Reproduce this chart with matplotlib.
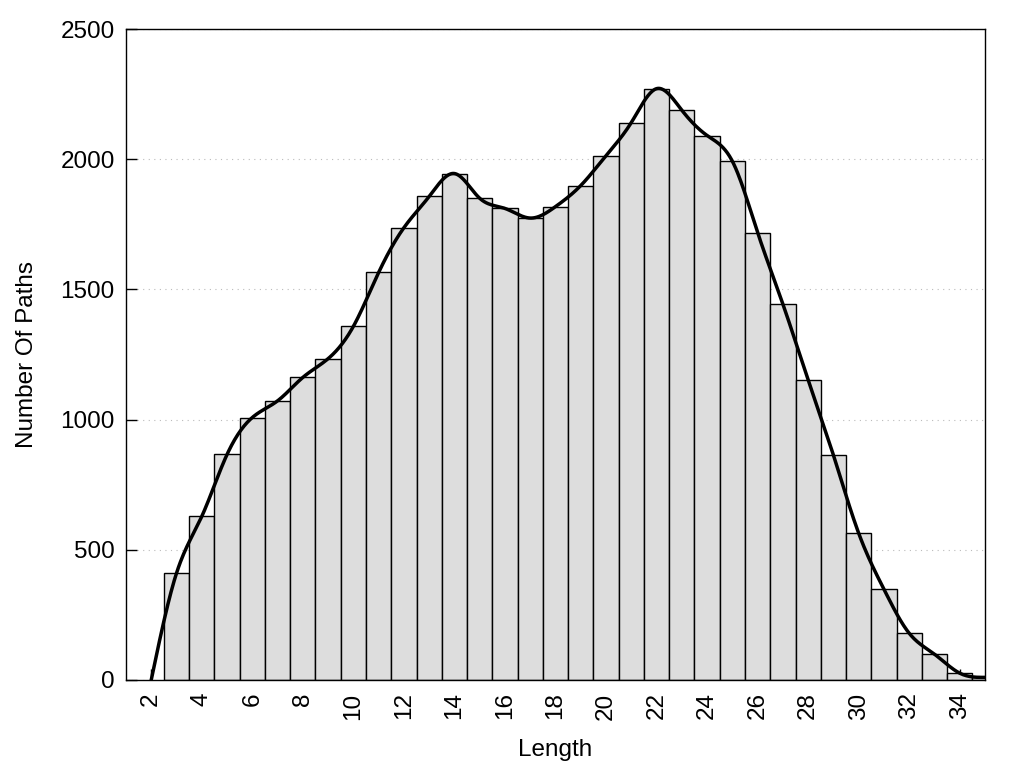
import numpy as np
import matplotlib
matplotlib.use("Agg")
import matplotlib.pyplot as plt

plt.rcParams['font.family'] = ['Liberation Sans', 'DejaVu Sans']

# path length histogram
lengths = list(range(3, 36))
counts = [410, 628, 866, 1008, 1072, 1162, 1234, 1358, 1565, 1737, 1857, 1945,
          1850, 1811, 1774, 1818, 1899, 2014, 2141, 2271, 2188, 2091, 1992,
          1718, 1443, 1152, 863, 563, 348, 179, 99, 26, 10]

# curve anchor points (curve starts at length 2 with zero paths)
curve_x = [2] + lengths
curve_y = [0] + counts

xticks = list(range(2, 35, 2))
yticks = [0, 500, 1000, 1500, 2000, 2500]


def natural_spline(x, y, xs):
    x = np.asarray(x, float)
    y = np.asarray(y, float)
    n = len(x)
    h = np.diff(x)
    A = np.zeros((n, n))
    b = np.zeros(n)
    A[0, 0] = A[-1, -1] = 1.0
    for i in range(1, n - 1):
        A[i, i - 1] = h[i - 1]
        A[i, i] = 2 * (h[i - 1] + h[i])
        A[i, i + 1] = h[i]
        b[i] = 3 * ((y[i + 1] - y[i]) / h[i] - (y[i] - y[i - 1]) / h[i - 1])
    c = np.linalg.solve(A, b)
    bb = (y[1:] - y[:-1]) / h - h * (2 * c[:-1] + c[1:]) / 3
    d = (c[1:] - c[:-1]) / (3 * h)
    idx = np.clip(np.searchsorted(x, xs) - 1, 0, n - 2)
    t = xs - x[idx]
    return y[idx] + bb[idx] * t + c[idx] * t ** 2 + d[idx] * t ** 3


fig = plt.figure(figsize=(10.24, 7.68), dpi=100)
ax = fig.add_axes([0.123, 0.1146, 0.839, 0.8476])

ax.bar(lengths, counts, width=1.0, color='#dddddd', edgecolor='black',
       linewidth=1.0, zorder=2)

xs = np.linspace(curve_x[0], curve_x[-1], 800)
ax.plot(xs, natural_spline(curve_x, curve_y, xs), color='black', lw=2.5,
        zorder=3)

ax.set_xlim(1, 35)
ax.set_ylim(0, 2500)
ax.set_xticks(xticks)
ax.set_yticks(yticks)
ax.set_xticklabels([str(v) for v in xticks], rotation=90, fontsize=17.5)
ax.tick_params(axis='y', labelsize=17.5)
ax.tick_params(direction='in', length=8, width=1.0, pad=8)
ax.tick_params(axis='x', pad=9)

ax.yaxis.grid(True, linestyle=(0, (1, 4)), color='#bbbbbb', linewidth=0.8,
              zorder=0)
ax.set_axisbelow(True)
for s in ax.spines.values():
    s.set_linewidth(1.0)

ax.set_xlabel('Length', fontsize=17.5, labelpad=14)
ax.set_ylabel('Number Of Paths', fontsize=17.5, labelpad=16)

fig.savefig('out.png', dpi=100)
